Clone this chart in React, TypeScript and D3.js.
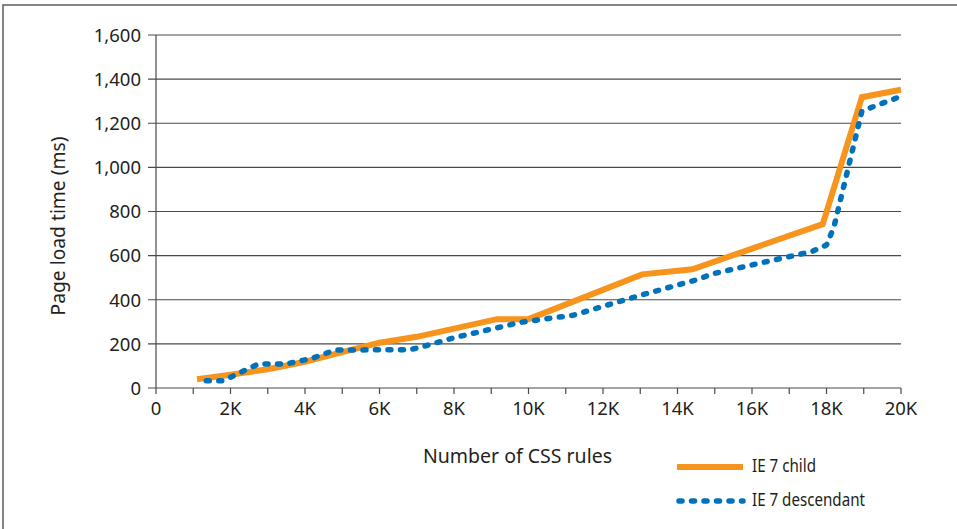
import React from "react";
import * as d3 from "d3";

const childX = [1.1, 2, 3, 4, 5, 6, 7, 9.15, 10, 13.05, 14.4, 17.9, 18.95, 20];
const childY = [40, 60, 85, 119, 163, 205, 232, 312, 312, 515, 538, 743, 1318, 1352];

const descX = [1.35, 1.8, 2.45, 2.75, 3.5, 4.2, 4.8, 6.8, 7.05, 8, 9.8, 10.1, 11.2, 13, 14.5, 15, 16, 17.6, 18.0, 18.2, 18.95, 19.3, 20];
const descY = [33, 33, 85, 109, 109, 135, 172, 174, 182, 228, 298, 305, 330, 420, 490, 520, 558, 618, 648, 730, 1255, 1278, 1322];

const xTicks = [0, 2, 4, 6, 8, 10, 12, 14, 16, 18, 20];
const xMinorTicks = d3.range(0, 21, 1);
const yTicks = [0, 200, 400, 600, 800, 1000, 1200, 1400, 1600];

const seriesNames = ["IE 7 child", "IE 7 descendant"];
const xTitle = "Number of CSS rules";
const yTitle = "Page load time (ms)";

const ORANGE = "#F7941D";
const BLUE = "#0072BC";
const FONT = "'Noto Sans', sans-serif";
const TEXT = "#231f20";

export default function App() {
  const W = 957, H = 529;
  const x = d3.scaleLinear().domain([0, 20]).range([156, 901]);
  const y = d3.scaleLinear().domain([0, 1600]).range([388, 35]);
  const line = d3.line<[number, number]>().x(d => x(d[0])).y(d => y(d[1]));
  const child = childX.map((v, i) => [v, childY[i]] as [number, number]);
  const desc = descX.map((v, i) => [v, descY[i]] as [number, number]);
  const fmt = d3.format(",");
  return (
    <svg width={W} height={H} style={{ position: "absolute", left: 0, top: 0, background: "#fff" }}>
      <rect x={3} y={5} width={1200} height={1200} fill="#fff" stroke="#666" strokeWidth={1.6} />
      {yTicks.map(t => (
        <g key={"y" + t}>
          <line x1={148} x2={x(20)} y1={y(t)} y2={y(t)} stroke="#4a4a4a" strokeWidth={1.2} />
          <text x={141} y={y(t)} dy="0.37em" textAnchor="end" fontFamily={FONT} fontSize={18.5} fill={TEXT}>{fmt(t)}</text>
        </g>
      ))}
      <line x1={x(0)} x2={x(0)} y1={y(1600)} y2={y(0)} stroke="#4a4a4a" strokeWidth={1.2} />
      {xMinorTicks.map(t => (
        <line key={"xm" + t} x1={x(t)} x2={x(t)} y1={y(0)} y2={y(0) + 6} stroke="#4a4a4a" strokeWidth={1.2} />
      ))}
      {xTicks.map(t => (
        <text key={"xt" + t} x={x(t)} y={415} textAnchor="middle" fontFamily={FONT} fontSize={18.5} fill={TEXT}>{t === 0 ? "0" : t + "K"}</text>
      ))}
      <path d={line(child) || ""} fill="none" stroke={ORANGE} strokeWidth={6} strokeLinejoin="miter" />
      <path d={line(desc) || ""} fill="none" stroke={BLUE} strokeWidth={5.5} strokeDasharray="3 9.5" strokeLinecap="round" strokeLinejoin="round" />
      <text x={423} y={463} fontFamily={FONT} fontSize={19.5} fill={TEXT} textLength={189} lengthAdjust="spacingAndGlyphs">{xTitle}</text>
      <text transform={`translate(65,226) rotate(-90)`} textAnchor="middle" fontFamily={FONT} fontSize={19.5} fill={TEXT} textLength={179} lengthAdjust="spacingAndGlyphs">{yTitle}</text>
      <line x1={677} x2={743} y1={467} y2={467} stroke={ORANGE} strokeWidth={6} />
      <text x={752} y={472} fontFamily={FONT} fontSize={18.5} fill={TEXT} textLength={64} lengthAdjust="spacingAndGlyphs">{seriesNames[0]}</text>
      <line x1={679} x2={743} y1={501} y2={501} stroke={BLUE} strokeWidth={5.5} strokeDasharray="3 9.5" strokeLinecap="round" />
      <text x={752} y={506} fontFamily={FONT} fontSize={18.5} fill={TEXT} textLength={113} lengthAdjust="spacingAndGlyphs">{seriesNames[1]}</text>
    </svg>
  );
}
